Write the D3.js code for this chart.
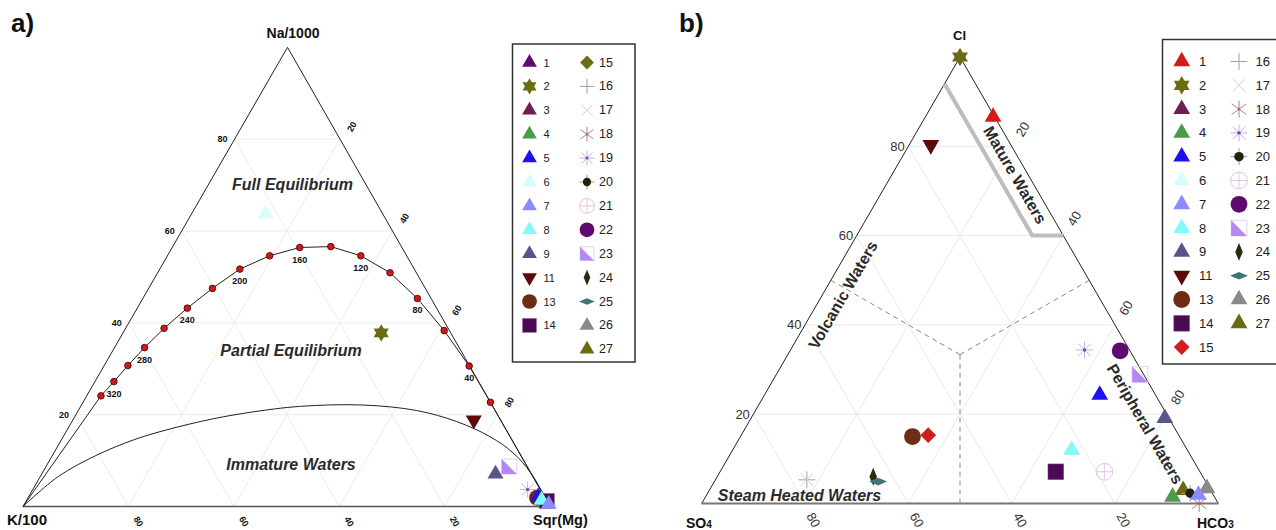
<!DOCTYPE html>
<html>
<head>
<meta charset="utf-8">
<script src="https://cdn.jsdelivr.net/npm/d3@7"></script>
<style>
  body { margin: 0; background: #fff; }
  svg { display: block; }
  text { font-family: "Liberation Sans", Arial, sans-serif; }
</style>
</head>
<body>
<svg id="chart" width="1276" height="530"></svg>
<script>
// ---- data ----
const gridTicks = [20, 40, 60, 80];

// a) Na/1000 - K/100 - Sqr(Mg), values in % : [Na, K, Mg]
const eqTemps = [340, 320, 300, 280, 260, 240, 220, 200, 180, 160, 140, 120, 100, 80, 60, 40, 20];
const eqPoints = [
  [24.1, 73.2, 2.7], [27.2, 69.2, 3.6], [30.7, 64.8, 4.5], [34.6, 59.7, 5.7],
  [38.8, 53.9, 7.3], [43.2, 47.3, 9.5], [47.5, 40.4, 12.1], [51.7, 33.1, 15.2],
  [54.6, 26.0, 19.4], [56.4, 19.4, 24.2], [56.6, 13.4, 30.0], [54.6, 8.7, 36.7],
  [50.9, 5.0, 44.1], [45.3, 2.6, 52.1], [38.3, 1.0, 60.7], [30.6, 0.1, 69.3],
  [22.7, 0.0, 77.3]
];
const eqLabelTemps = [320, 280, 240, 200, 160, 120, 80, 40];
const immatureCurve = [
  [0, 100, 0], [6.5, 90.1, 3.4], [11.2, 80.4, 8.4], [14.5, 71.8, 13.7], [16.7, 64.4, 18.9],
  [19.1, 54.4, 26.5], [20.6, 46.1, 33.3], [21.8, 36.7, 41.5], [22.1, 24.5, 53.4],
  [20.9, 14.9, 64.2], [18.5, 8.5, 73.0], [15.2, 3.8, 81.0], [11.7, 1.2, 87.1],
  [7.2, 0.0, 92.8], [0, 0, 100]
];
const samplesA = [
  { id: 6, v: [63.7, 22.2, 14.1] },
  { id: 2, v: [37.8, 13.2, 49.0] },
  { id: 11, v: [18.8, 5.1, 76.1] },
  { id: 23, v: [8.7, 3.4, 87.9] },
  { id: 9, v: [7.1, 6.8, 86.1] },
  { id: 19, v: [3.7, 2.4, 93.9] },
  { id: 4, v: [0.8, 0.4, 98.8] },
  { id: 13, v: [1.9, 1.5, 96.6] },
  { id: 14, v: [1.2, 0.0, 98.8] },
  { id: 5, v: [2.1, 1.2, 96.7] },
  { id: 8, v: [1.4, 0.9, 97.7] },
  { id: 7, v: [0.5, 0.0, 99.5] }
];

// b) Cl - SO4 - HCO3, values in % : [Cl, SO4, HCO3]
const samplesB = [
  { id: 2, v: [100, 0, 0] },
  { id: 1, v: [86.6, 0.3, 13.1] },
  { id: 11, v: [80.3, 15.5, 4.2] },
  { id: 19, v: [34.4, 8.7, 56.9] },
  { id: 22, v: [34.2, 1.9, 63.9] },
  { id: 23, v: [28.9, 0.7, 70.4] },
  { id: 5, v: [24.3, 10.8, 64.9] },
  { id: 9, v: [19.1, 0.8, 80.1] },
  { id: 8, v: [12.0, 22.4, 65.6] },
  { id: 14, v: [7.1, 27.9, 65.0] },
  { id: 21, v: [7.1, 18.5, 74.4] },
  { id: 13, v: [15.0, 51.7, 33.3] },
  { id: 15, v: [15.3, 48.5, 36.2] },
  { id: 16, v: [5.3, 77.0, 17.7] },
  { id: 17, v: [5.3, 77.0, 17.7] },
  { id: 24, v: [6.0, 63.8, 30.2] },
  { id: 25, v: [4.9, 63.4, 31.7] },
  { id: 18, v: [0, 3.7, 96.3] },
  { id: 26, v: [3.4, 0.5, 96.1] },
  { id: 27, v: [3.0, 5.3, 91.7] },
  { id: 20, v: [2.3, 4.3, 93.4] },
  { id: 4, v: [1.5, 8.1, 90.4] },
  { id: 7, v: [1.9, 2.9, 95.2] }
];
const matureLine = [[94, 6, 0], [60, 6, 34], [60, 0, 40]];
const fieldCenter = [33.33, 33.33, 33.34];
const fieldEnds = [[50, 50, 0], [50, 0, 50], [0, 50, 50]];

const legendA = [[1, 2, 3, 4, 5, 6, 7, 8, 9, 11, 13, 14], [15, 16, 17, 18, 19, 20, 21, 22, 23, 24, 25, 26, 27]];
const legendB = [[1, 2, 3, 4, 5, 6, 7, 8, 9, 11, 13, 14, 15], [16, 17, 18, 19, 20, 21, 22, 23, 24, 25, 26, 27]];

// ---- styles ----
const shapeOf = {
  1: 'tri', 2: 'star', 3: 'tri', 4: 'tri', 5: 'tri', 6: 'tri', 7: 'tri', 8: 'tri', 9: 'tri',
  11: 'triDown', 13: 'circle', 14: 'square', 15: 'diamond', 16: 'plus', 17: 'cross',
  18: 'aster6', 19: 'aster8', 20: 'dotCross', 21: 'circlePlus', 22: 'circle', 23: 'halfSquare',
  24: 'diamondTall', 25: 'diamondWide', 26: 'tri', 27: 'tri'
};
const baseColors = {
  2: '#6b6b14', 3: '#6e1f52', 4: '#4b9b4b', 5: '#1e10f2', 6: '#d8fcfc', 7: '#8c8aff',
  8: '#80fbfb', 9: '#57558a', 11: '#5e0a0a', 13: '#6e2c12', 14: '#4a0a55', 16: '#a0a0a0',
  17: '#cfcfcf', 18: '#a88890', 19: '#c4b0e6', 20: '#1f2308', 21: '#e4c4e4', 22: '#5e0a6e',
  23: '#b488f4', 24: '#262d0c', 25: '#3f7675', 26: '#8a8a8a', 27: '#6b6b14'
};
const colorsA = Object.assign({}, baseColors, { 1: '#5e0a6e', 15: '#6b6b14' });
const colorsB = Object.assign({}, baseColors, { 1: '#d21c1c', 15: '#d21c1c' });

const svg = d3.select('#chart');

function drawSymbol(g, id, colors, s) {
  const c = colors[id];
  const sym = (type, size) => d3.symbol().type(type).size(size)();
  const seg = (x1, y1, x2, y2, col, w) => g.append('line')
    .attr('x1', x1 * s).attr('y1', y1 * s).attr('x2', x2 * s).attr('y2', y2 * s)
    .attr('stroke', col).attr('stroke-width', w || 1);
  const poly = pts => 'M' + pts.map(p => [p[0] * s, p[1] * s].join(',')).join('L') + 'Z';
  switch (shapeOf[id]) {
    case 'tri':
      g.append('path').attr('d', sym(d3.symbolTriangle, 111 * s * s)).attr('fill', c);
      break;
    case 'triDown':
      g.append('path').attr('d', sym(d3.symbolTriangle, 111 * s * s)).attr('fill', c).attr('transform', 'rotate(180)');
      break;
    case 'star':
      g.append('path').attr('d', sym(d3.symbolTriangle, 100 * s * s)).attr('fill', c);
      g.append('path').attr('d', sym(d3.symbolTriangle, 100 * s * s)).attr('fill', c).attr('transform', 'rotate(180)');
      break;
    case 'circle':
      g.append('circle').attr('r', 8 * s).attr('fill', c);
      break;
    case 'square':
      g.append('rect').attr('x', -7.5 * s).attr('y', -7.5 * s).attr('width', 15 * s).attr('height', 15 * s)
        .attr('fill', c).attr('stroke', '#8a5a8a').attr('stroke-width', 0.5);
      break;
    case 'diamond':
      g.append('path').attr('d', poly([[0, -7.5], [7.5, 0], [0, 7.5], [-7.5, 0]])).attr('fill', c);
      break;
    case 'diamondTall':
      g.append('path').attr('d', poly([[0, -8.5], [3.6, 0], [0, 8.5], [-3.6, 0]])).attr('fill', c);
      break;
    case 'diamondWide':
      g.append('path').attr('d', poly([[-8.5, 0], [0, -3.6], [8.5, 0], [0, 3.6]])).attr('fill', c);
      break;
    case 'plus':
      seg(-8, 0, 8, 0, c); seg(0, -8, 0, 8, c);
      break;
    case 'cross':
      seg(-6, -6, 6, 6, c); seg(-6, 6, 6, -6, c);
      break;
    case 'aster6':
      seg(-7, -5, 7, 5, c); seg(-7, 5, 7, -5, c); seg(0, -8, 0, 8, c);
      g.append('circle').attr('r', 1.3 * s).attr('fill', '#a0606e');
      break;
    case 'aster8':
      seg(-8, 0, 8, 0, c); seg(0, -8, 0, 8, c); seg(-6, -6, 6, 6, c); seg(-6, 6, 6, -6, c);
      g.append('circle').attr('r', 1.6 * s).attr('fill', '#7a40a0');
      break;
    case 'dotCross':
      seg(-8, 0, 8, 0, '#9a9a9a'); seg(0, -8, 0, 8, '#9a9a9a');
      g.append('circle').attr('r', 4.5 * s).attr('fill', c);
      break;
    case 'circlePlus':
      g.append('circle').attr('r', 8 * s).attr('fill', 'none').attr('stroke', c);
      seg(-8, 0, 8, 0, c); seg(0, -8, 0, 8, c);
      break;
    case 'halfSquare':
      g.append('rect').attr('x', -7.5 * s).attr('y', -7.5 * s).attr('width', 15 * s).attr('height', 15 * s)
        .attr('fill', 'none').attr('stroke', '#dcd2f2');
      g.append('path').attr('d', poly([[-7.5, -7.5], [-7.5, 7.5], [7.5, 7.5]])).attr('fill', c);
      break;
  }
}

// ternary projection with d3 scales: v = [top, left, right] in %
function makeProj(T, L, R) {
  const y = d3.scaleLinear().domain([0, 100]).range([L[1], T[1]]);
  const x = d3.scaleLinear().domain([0, 100]).range([L[0], R[0]]);
  const k = (T[0] - L[0]) / (R[0] - L[0]);
  return v => [x(v[2] + v[0] * k), y(v[0])];
}

function drawFrame(g, proj, opt) {
  const line = d3.line().x(d => proj(d)[0]).y(d => proj(d)[1]);
  const grid = [];
  gridTicks.forEach(t => {
    grid.push([[t, 100 - t, 0], [t, 0, 100 - t]]);
    grid.push([[0, 100 - t, t], [100 - t, 0, t]]);
    grid.push([[0, t, 100 - t], [100 - t, t, 0]]);
  });
  g.append('g').selectAll('path').data(grid).join('path')
    .attr('d', line).attr('fill', 'none').attr('stroke', opt.gridColor).attr('stroke-width', 1);

  g.append('path').attr('d', line([[0, 100, 0], [100, 0, 0], [0, 0, 100]]))
    .attr('fill', 'none').attr('stroke', '#222').attr('stroke-width', 1);
  g.append('path').attr('d', line([[0, 100, 0], [0, 0, 100]]))
    .attr('fill', 'none').attr('stroke', opt.baseColor).attr('stroke-width', opt.baseWidth);

  const tickText = (sel) => sel.attr('font-size', opt.tickSize).attr('font-weight', opt.tickWeight)
    .attr('fill', opt.tickFill).attr('dominant-baseline', 'central');
  const tg = g.append('g');
  gridTicks.forEach(t => {
    const pl = proj([t, 100 - t, 0]);
    tg.append('text').call(tickText).attr('text-anchor', 'end')
      .attr('x', pl[0] + opt.leftOff[0]).attr('y', pl[1] + opt.leftOff[1]).text(t);
    const pr = proj([100 - t, 0, t]);
    tg.append('text').call(tickText).attr('text-anchor', 'middle')
      .attr('transform', `translate(${pr[0] + opt.rightOff[0]},${pr[1] + opt.rightOff[1]}) rotate(-60)`).text(t);
    const pb = proj([0, t, 100 - t]);
    tg.append('text').call(tickText).attr('text-anchor', 'middle')
      .attr('transform', `translate(${pb[0] + opt.bottomOff[0]},${pb[1] + opt.bottomOff[1]}) rotate(60)`).text(t);
  });
  return line;
}

function drawLegend(g, cols, colors, box, rowY0, rowStep, colX, labelX, sizes, symScale) {
  g.append('rect').attr('x', box[0]).attr('y', box[1]).attr('width', box[2]).attr('height', box[3])
    .attr('fill', '#fff').attr('stroke', '#333').attr('stroke-width', 1.5);
  cols.forEach((ids, ci) => {
    ids.forEach((id, ri) => {
      const y = rowY0 + ri * rowStep;
      drawSymbol(g.append('g').attr('transform', `translate(${colX[ci]},${y})`), id, colors, symScale);
      g.append('text').attr('x', labelX[ci]).attr('y', y).attr('dominant-baseline', 'central')
        .attr('font-size', sizes[ci]).attr('fill', '#222').text(id);
    });
  });
}

// ================= panel a =================
const ga = svg.append('g');
const projA = makeProj([287.5, 47.3], [23, 506.5], [550, 506.5]);
const lineA = drawFrame(ga, projA, {
  gridColor: '#ececec', baseColor: '#555', baseWidth: 1.5,
  tickSize: 9, tickWeight: 'bold', tickFill: '#111',
  leftOff: [-7, 0], rightOff: [12, -12.5], bottomOff: [10, 15]
});

// immature waters curve
ga.append('path').attr('d', lineA.curve(d3.curveCatmullRom.alpha(0.5))(immatureCurve))
  .attr('fill', 'none').attr('stroke', '#222').attr('stroke-width', 1);
lineA.curve(d3.curveLinear);
// full equilibrium line
ga.append('path').attr('d', lineA([[0, 100, 0]].concat(eqPoints, [[0, 0, 100]])))
  .attr('fill', 'none').attr('stroke', '#222').attr('stroke-width', 1);
ga.append('g').selectAll('circle').data(eqPoints).join('circle')
  .attr('cx', d => projA(d)[0]).attr('cy', d => projA(d)[1]).attr('r', 3.3)
  .attr('fill', '#d01818').attr('stroke', '#3a0000').attr('stroke-width', 0.8);
ga.append('g').selectAll('text').data(eqLabelTemps).join('text')
  .attr('x', t => projA(eqPoints[eqTemps.indexOf(t)])[0])
  .attr('y', t => projA(eqPoints[eqTemps.indexOf(t)])[1] + 12)
  .attr('text-anchor', 'middle').attr('dominant-baseline', 'central')
  .attr('font-size', 9).attr('font-weight', 'bold').attr('fill', '#111').text(t => t);

const regionA = [['Full Equilibrium', 292.5, 190], ['Partial Equilibrium', 291, 356], ['Immature Waters', 291, 470]];
regionA.forEach(r => ga.append('text').attr('x', r[1]).attr('y', r[2]).attr('text-anchor', 'middle')
  .attr('font-size', 16).attr('font-weight', 'bold').attr('font-style', 'italic').attr('fill', '#2a2a2a').text(r[0]));

samplesA.forEach(d => {
  const p = projA(d.v);
  drawSymbol(ga.append('g').attr('transform', `translate(${p[0]},${p[1]})`), d.id, colorsA, 1);
});

ga.append('text').attr('x', 293).attr('y', 38).attr('text-anchor', 'middle').attr('font-size', 14)
  .attr('font-weight', 'bold').attr('fill', '#111').text('Na/1000');
ga.append('text').attr('x', 7).attr('y', 525).attr('font-size', 15)
  .attr('font-weight', 'bold').attr('fill', '#111').text('K/100');
ga.append('text').attr('x', 533).attr('y', 525).attr('font-size', 14.5)
  .attr('font-weight', 'bold').attr('fill', '#111').text('Sqr(Mg)');
ga.append('text').attr('x', 11).attr('y', 32).attr('font-size', 26)
  .attr('font-weight', 'bold').attr('fill', '#111').text('a)');

drawLegend(ga, legendA, colorsA, [512.5, 44, 122.5, 318], 62.5, 23.9, [529.5, 587], [543.5, 599], [11, 12.5], 0.92);

// ================= panel b =================
const gb = svg.append('g');
const projB = makeProj([960, 57], [701.7, 503.5], [1218.3, 503.5]);
const lineB = drawFrame(gb, projB, {
  gridColor: '#e8e8e8', baseColor: '#777', baseWidth: 2,
  tickSize: 13, tickWeight: 'normal', tickFill: '#333',
  leftOff: [-3.5, 0], rightOff: [11, -17], bottomOff: [8.5, 16.5]
});

gb.append('g').selectAll('path').data(fieldEnds).join('path')
  .attr('d', e => lineB([fieldCenter, e])).attr('fill', 'none')
  .attr('stroke', '#888').attr('stroke-width', 1).attr('stroke-dasharray', '5,4');
gb.append('path').attr('d', lineB(matureLine)).attr('fill', 'none')
  .attr('stroke', '#bdbdbd').attr('stroke-width', 4);

const regionB = [
  ['Mature Waters', 1015, 175, 60],
  ['Volcanic Waters', 843, 295, -60],
  ['Peripheral Waters', 1145, 424, 60]
];
regionB.forEach(r => gb.append('text').attr('transform', `translate(${r[1]},${r[2]}) rotate(${r[3]})`)
  .attr('text-anchor', 'middle').attr('dominant-baseline', 'central')
  .attr('font-size', 16).attr('font-weight', 'bold').attr('fill', '#2a2a2a').text(r[0]));
gb.append('text').attr('x', 799.5).attr('y', 501).attr('text-anchor', 'middle')
  .attr('font-size', 16).attr('font-weight', 'bold').attr('font-style', 'italic').attr('fill', '#2a2a2a')
  .text('Steam Heated Waters');

samplesB.forEach(d => {
  const p = projB(d.v);
  drawSymbol(gb.append('g').attr('transform', `translate(${p[0]},${p[1]})`), d.id, colorsB, 1.05);
});

gb.append('text').attr('x', 959.5).attr('y', 40).attr('text-anchor', 'middle').attr('font-size', 13)
  .attr('font-weight', 'bold').attr('fill', '#111').text('Cl');
const so4 = gb.append('text').attr('x', 686).attr('y', 528).attr('font-size', 14)
  .attr('font-weight', 'bold').attr('fill', '#111');
so4.append('tspan').text('SO');
so4.append('tspan').attr('font-size', 10).text('4');
const hco3 = gb.append('text').attr('x', 1197).attr('y', 528).attr('font-size', 14)
  .attr('font-weight', 'bold').attr('fill', '#111');
hco3.append('tspan').text('HCO');
hco3.append('tspan').attr('font-size', 10).text('3');
gb.append('text').attr('x', 679).attr('y', 32).attr('font-size', 26)
  .attr('font-weight', 'bold').attr('fill', '#111').text('b)');

drawLegend(gb, legendB, colorsB, [1162.5, 39.5, 130, 324.5], 61.5, 23.8, [1181.7, 1239], [1199, 1255.5], [13, 13], 1.05);
</script>
</body>
</html>
